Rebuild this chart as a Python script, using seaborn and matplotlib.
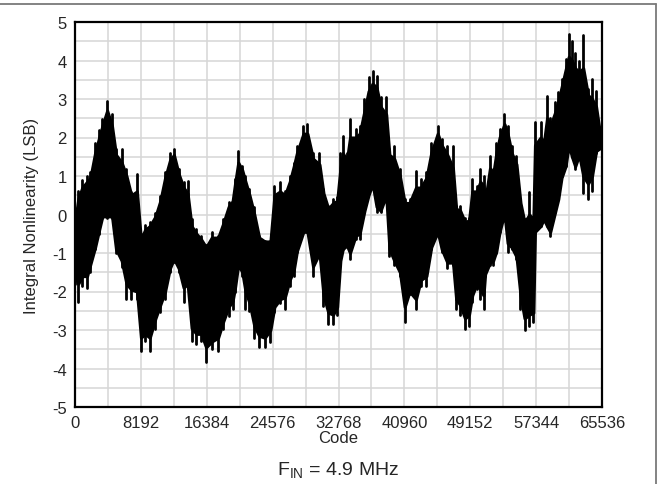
import numpy as np
import pandas as pd
import matplotlib
matplotlib.use('Agg')
import matplotlib.pyplot as plt
import seaborn as sns

# INL trace: sample codes, spike extremes and the solid body
codes = [0, 400, 900, 1500, 1900, 2500, 3000, 3400, 4000, 4600, 5100, 5800, 6400, 7000,
         7700, 8200, 8700, 9300, 10000, 10600, 11200, 11800, 12300, 12900, 13500, 14000,
         14500, 15100, 15700, 16300, 17000, 17800, 18400, 19100, 19600, 19900, 20300,
         20800, 21200, 21700, 22300, 22900, 23600, 24300, 24800, 25500, 26100, 26700,
         27200, 27600, 28400, 28900, 29600, 30400, 30900, 31500, 32100, 32600, 33000,
         33300, 33800, 34200, 34900, 35400, 36000, 36500, 37000, 37500, 38000, 38700,
         39100, 39700, 40400, 41000, 41600, 42400, 43000, 43700, 44300, 45100, 45600,
         46300, 47000, 47400, 47900, 48500, 49000, 49400, 49950, 50400, 50800, 51000,
         51600, 52000, 52400, 52800, 53400, 53800, 54300, 54900, 55400, 55900, 56500,
         57000, 57200, 57900, 58300, 58700, 59100, 59700, 60100, 60500, 61000, 61400,
         61800, 62200, 62700, 63200, 63800, 64300, 64800, 65535]
inl_upper = [0.0, 0.6, 0.9, 1.0, 1.1, 1.87, 2.2, 2.48, 2.96, 2.6, 1.7, 1.7, 1.18, 0.58,
             1.05, -0.55, -0.28, -0.2, 0.05, 0.48, 1.1, 1.6, 1.7, 1.18, 0.84, 0.88,
             -0.12, -0.38, -0.55, -0.8, -0.46, -0.55, -0.12, 0.32, 0.4, 0.92, 1.66,
             1.27, 1.0, 0.66, 0.2, -0.55, -0.68, -0.68, 0.75, 0.84, 0.6, 1.0,
             1.35, 1.79, 2.31, 2.35, 1.6, 1.6, 0.66, 0.23, 0.4, 0.45, 1.6,
             2.04, 1.6, 2.48, 2.22, 2.31, 3.0, 3.56, 3.74, 3.6, 3.04, 3.04,
             1.7, 1.79, 1.18, 0.4, 0.4, 1.14, 0.92, 1.1, 1.87, 2.31, 1.96,
             1.79, 1.79, 0.23, 0.23, -0.1, -0.1, 0.92, 0.75, 1.18, 1.0, 0.4,
             1.53, 1.18, 1.87, 2.22, 2.6, 2.31, 1.79, 1.53, 0.4, -0.12, 0.58,
             -0.1, 2.4, 2.4, 1.96, 3.09, 2.5, 2.91, 3.17, 3.52, 4.04, 4.69,
             4.5, 4.2, 4.0, 4.65, 3.26, 3.52, 3.2, 1.76]
inl_lower = [-1.8, -2.28, -1.85, -1.9, -1.5, -0.9, -0.5, -0.1, -0.1, -0.1, -1.0, -1.37, -2.2, -2.2,
             -2.2, -3.54, -3.28, -3.54, -2.97, -2.54, -2.2, -1.5, -1.24, -1.5, -2.28, -1.85,
             -3.28, -3.36, -3.28, -3.84, -3.5, -3.54, -2.97, -2.63, -2.45, -2.0, -1.33,
             -1.6, -2.45, -2.5, -3.2, -3.45, -3.45, -3.3, -2.54, -2.3, -2.45, -1.85,
             -1.6, -0.98, -0.46, -0.46, -1.6, -1.0, -2.37, -2.84, -2.84, -2.6, -1.24,
             -0.9, -0.8, -1.16, -0.64, -0.64, 0.14, 0.62, 1.35, 0.06, 0.06, 0.5,
             -1.07, -1.3, -1.6, -2.8, -2.07, -2.45, -1.85, -1.85, -0.9, -0.46, -0.98,
             -1.4, -1.3, -2.45, -2.6, -2.97, -2.9, -2.28, -1.93, -2.2, -2.45, -1.6,
             -1.3, -1.3, -1.0, -0.46, 0.06, -0.98, -0.9, -1.16, -2.45, -3.0, -2.9,
             -2.8, -0.46, -0.3, -0.12, -0.3, -0.55, 0.06, 0.4, 1.0, 1.27, 2.22,
             1.5, 1.18, 1.6, 0.57, 0.4, 0.6, 1.6, 1.76]
body_upper = [-0.2, 0.4, 0.7, 0.85, 0.95, 1.6, 2.0, 2.3, 2.7, 2.3, 1.55, 1.35, 1.0, 0.5,
              0.6, -0.65, -0.4, -0.3, -0.05, 0.35, 0.95, 1.4, 1.55, 1.05, 0.7, 0.55,
              -0.3, -0.5, -0.65, -0.85, -0.6, -0.6, -0.25, 0.2, 0.35, 0.8, 1.35,
              1.15, 0.85, 0.5, 0.0, -0.6, -0.7, -0.7, 0.5, 0.6, 0.5, 0.85,
              1.25, 1.6, 2.1, 2.1, 1.45, 1.3, 0.55, 0.15, 0.3, 0.35, 1.2,
              1.6, 1.4, 2.0, 2.0, 2.1, 2.7, 3.2, 3.4, 3.3, 2.8, 2.6,
              1.55, 1.45, 1.0, 0.3, 0.3, 0.7, 0.7, 0.95, 1.6, 2.1, 1.8,
              1.55, 1.2, 0.15, 0.1, -0.2, -0.15, 0.6, 0.6, 0.85, 0.75, 0.35,
              1.2, 1.05, 1.6, 2.0, 2.35, 2.1, 1.6, 1.3, 0.3, -0.2, 0.0,
              -0.15, 1.8, 2.0, 1.85, 2.5, 2.3, 2.65, 2.95, 3.3, 3.75, 4.1,
              4.0, 3.8, 3.7, 3.8, 3.1, 3.0, 2.8, 1.76]
body_lower = [-1.6, -1.8, -1.6, -1.6, -1.3, -0.85, -0.4, -0.05, -0.05, -0.05, -0.9, -1.2, -1.8, -1.95,
              -2.0, -3.2, -3.1, -3.2, -2.7, -2.35, -2.0, -1.4, -1.15, -1.4, -1.9, -1.8,
              -2.95, -3.1, -3.1, -3.45, -3.3, -3.2, -2.8, -2.4, -2.25, -1.9, -1.3,
              -1.5, -2.0, -2.3, -2.9, -3.15, -3.2, -3.0, -2.4, -2.2, -2.15, -1.7,
              -1.45, -0.95, -0.45, -0.45, -1.35, -1.0, -2.1, -2.55, -2.6, -2.4, -1.2,
              -0.9, -0.8, -1.0, -0.55, -0.5, 0.1, 0.5, 0.8, 0.2, 0.1, 0.5,
              -0.9, -1.2, -1.5, -2.4, -2.0, -2.2, -1.7, -1.6, -0.85, -0.45, -0.9,
              -1.25, -1.25, -2.2, -2.35, -2.7, -2.6, -2.1, -1.8, -1.95, -2.1, -1.55,
              -1.25, -1.2, -0.95, -0.45, 0.03, -0.75, -0.85, -1.1, -2.1, -2.7, -2.6,
              -2.55, -0.45, -0.3, -0.12, -0.3, -0.45, 0.06, 0.4, 0.95, 1.25, 1.8,
              1.5, 1.25, 1.55, 1.0, 0.8, 1.0, 1.65, 1.76]

x_ticks = [0, 8192, 16384, 24576, 32768, 40960, 49152, 57344, 65536]
y_ticks = [-5, -4, -3, -2, -1, 0, 1, 2, 3, 4, 5]

# long-form table of vertical strokes: each sample runs from its low spike to its high spike
rows = []
for i, c in enumerate(codes):
    rows.append({'code': c, 'inl': inl_lower[i], 'stroke': i})
    rows.append({'code': c, 'inl': inl_upper[i], 'stroke': i})
strokes = pd.DataFrame(rows)

sns.set_style('white')
plt.rcParams['font.family'] = ['Liberation Sans', 'DejaVu Sans']

fig = plt.figure(figsize=(6.58, 4.85), dpi=100)
ax = fig.add_axes([75 / 658, 1 - 408 / 485, 527 / 658, 385 / 485])

ax.fill_between(codes, body_lower, body_upper, color='black', linewidth=2.2, zorder=3)
sns.lineplot(data=strokes, x='code', y='inl', units='stroke', estimator=None, sort=False,
             color='black', linewidth=2.0, ax=ax, zorder=4)

ax.set_xlim(0, 65536)
ax.set_ylim(-5, 5)
ax.set_xticks(x_ticks)
ax.set_xticks(np.arange(0, 65537, 4096), minor=True)
ax.set_yticks(y_ticks)
ax.set_yticks(np.arange(-5, 5.01, 0.5), minor=True)
ax.set_xticklabels([str(t) for t in x_ticks], fontsize=12)
ax.set_yticklabels([str(t) for t in y_ticks], fontsize=12)
ax.tick_params(which='both', length=0, pad=6)
ax.grid(which='both', color='#d6d6d6', linewidth=1.1, zorder=0)
ax.set_axisbelow(True)
for s in ax.spines.values():
    s.set_color('black')
    s.set_linewidth(1.6)
    s.set_zorder(5)

ax.set_xlabel('Code', fontsize=12, labelpad=0)
ax.set_ylabel('Integral Nonlinearity (LSB)', fontsize=12, labelpad=9)

fig.text(338.5 / 658, 1 - 471 / 485, r'F$_{\mathregular{IN}}$ = 4.9 MHz', fontsize=14,
         ha='center', va='center')

# outer frame lines (top and right)
fig.add_artist(plt.Line2D([0, 655.5 / 658], [1 - 5 / 485, 1 - 5 / 485], color='#7a7a7a', linewidth=1.3))
fig.add_artist(plt.Line2D([655.5 / 658, 655.5 / 658], [0, 1 - 5 / 485], color='#7a7a7a', linewidth=1.3))

fig.savefig('out.png', dpi=100)
